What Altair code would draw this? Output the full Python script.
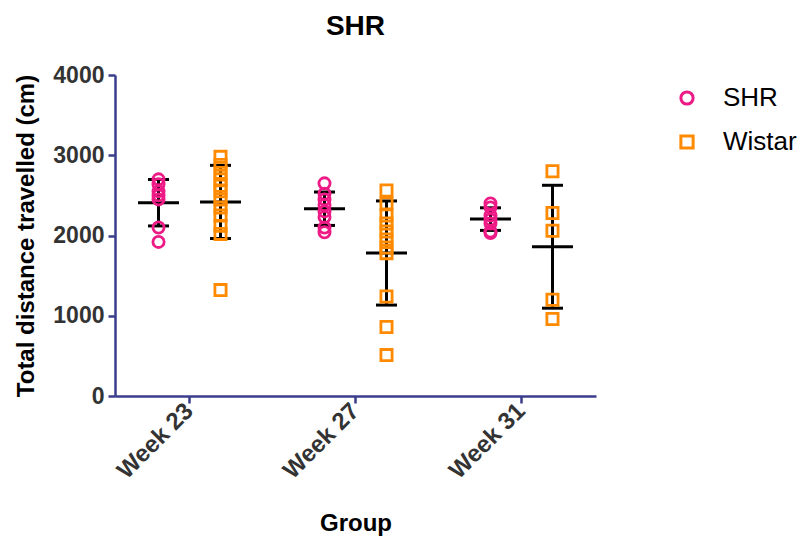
import altair as alt
import pandas as pd

weeks = ["Week 23", "Week 27", "Week 31"]
groups = ["SHR", "Wistar"]
colors = ["#ee1a85", "#ff8a00"]

shr_w23 = [2700, 2640, 2550, 2500, 2450, 2100, 1920]
wistar_w23 = [2980, 2880, 2780, 2700, 2620, 2550, 2450, 2350, 2250, 2120, 2020, 1320]
shr_w27 = [2650, 2520, 2450, 2380, 2300, 2230, 2100, 2040]
wistar_w27 = [2560, 2400, 2250, 2150, 2050, 1950, 1850, 1780, 1240, 860, 510]
shr_w31 = [2400, 2350, 2250, 2200, 2150, 2050, 2030]
wistar_w31 = [2800, 2280, 2060, 1200, 960]

series = [
    ("Week 23", "SHR", shr_w23), ("Week 23", "Wistar", wistar_w23),
    ("Week 27", "SHR", shr_w27), ("Week 27", "Wistar", wistar_w27),
    ("Week 31", "SHR", shr_w31), ("Week 31", "Wistar", wistar_w31),
]
rows = []
for wk, grp, vals in series:
    for v in vals:
        rows.append({"week": wk, "group": grp, "distance": v})
df = pd.DataFrame(rows)

NAVY = "#3a3d8c"
FONT = "Liberation Sans"

x_enc = alt.X(
    "week:N", sort=weeks, title="Group",
    scale=alt.Scale(paddingInner=0.253, paddingOuter=0.0755),
    axis=alt.Axis(labelAngle=-45, labelAlign="right", labelBaseline="middle",
                  labelFontSize=24, labelFontWeight="bold", labelColor="#333333",
                  labelFont=FONT, labelPadding=4,
                  tickSize=7, tickWidth=2.5, tickColor=NAVY,
                  domainColor=NAVY, domainWidth=2.5,
                  titleFontSize=24, titleFontWeight="bold", titleFont=FONT,
                  titleColor="black", titlePadding=28, grid=False),
)
xoff = alt.XOffset("group:N", sort=groups,
                   scale=alt.Scale(paddingInner=0, paddingOuter=0))
y_scale = alt.Scale(domain=[0, 4000], nice=False)
y_axis = alt.Axis(values=[0, 1000, 2000, 3000, 4000], format="d", labelFontSize=23,
                  labelFontWeight="bold", labelColor="#333333", labelFont=FONT,
                  labelPadding=4, tickSize=7, tickWidth=2.5, tickColor=NAVY,
                  domainColor=NAVY, domainWidth=2.5,
                  titleFontSize=24, titleFontWeight="bold", titleFont=FONT,
                  titleColor="black", titlePadding=14, grid=False)

base = alt.Chart(df)

summary = base.transform_aggregate(
    mean="mean(distance)", sd="stdev(distance)", groupby=["week", "group"]
).transform_calculate(
    lo="datum.mean - datum.sd", hi="datum.mean + datum.sd"
)

rule = summary.mark_rule(color="black", strokeWidth=3, opacity=1).encode(
    x=x_enc, xOffset=xoff,
    y=alt.Y("lo:Q", scale=y_scale, axis=y_axis, title="Total distance travelled (cm)"),
    y2="hi:Q",
)
mean_tick = summary.mark_tick(color="black", thickness=3, size=41, opacity=1).encode(
    x=x_enc, xOffset=xoff, y=alt.Y("mean:Q", scale=y_scale),
)
lo_tick = summary.mark_tick(color="black", thickness=3, size=21, opacity=1).encode(
    x=x_enc, xOffset=xoff, y=alt.Y("lo:Q", scale=y_scale),
)
hi_tick = summary.mark_tick(color="black", thickness=3, size=21, opacity=1).encode(
    x=x_enc, xOffset=xoff, y=alt.Y("hi:Q", scale=y_scale),
)

points = base.mark_point(filled=False, strokeWidth=2.8, size=125, opacity=1).encode(
    x=x_enc, xOffset=xoff,
    y=alt.Y("distance:Q", scale=y_scale),
    color=alt.Color("group:N", sort=groups,
                    scale=alt.Scale(domain=groups, range=colors),
                    legend=alt.Legend(title=None, orient="none", legendX=559, legendY=10,
                                      labelFontSize=26, labelFont=FONT, labelColor="black",
                                      labelOffset=23, rowPadding=18, symbolSize=150,
                                      symbolStrokeWidth=3)),
    shape=alt.Shape("group:N", sort=groups,
                    scale=alt.Scale(domain=groups, range=["circle", "square"])),
)

chart = alt.layer(rule, mean_tick, lo_tick, hi_tick, points).properties(
    width=481, height=321,
    autosize=alt.AutoSizeParams(type="none"),
    padding={"left": 115, "top": 75, "right": 206, "bottom": 147},
    background="white",
    title=alt.Title("SHR", fontSize=28, fontWeight="bold", font=FONT, color="black",
                    offset=23),
).configure_view(strokeWidth=0, stroke="transparent")

chart.save("out.html", embed_options={"renderer": "svg", "actions": False})
